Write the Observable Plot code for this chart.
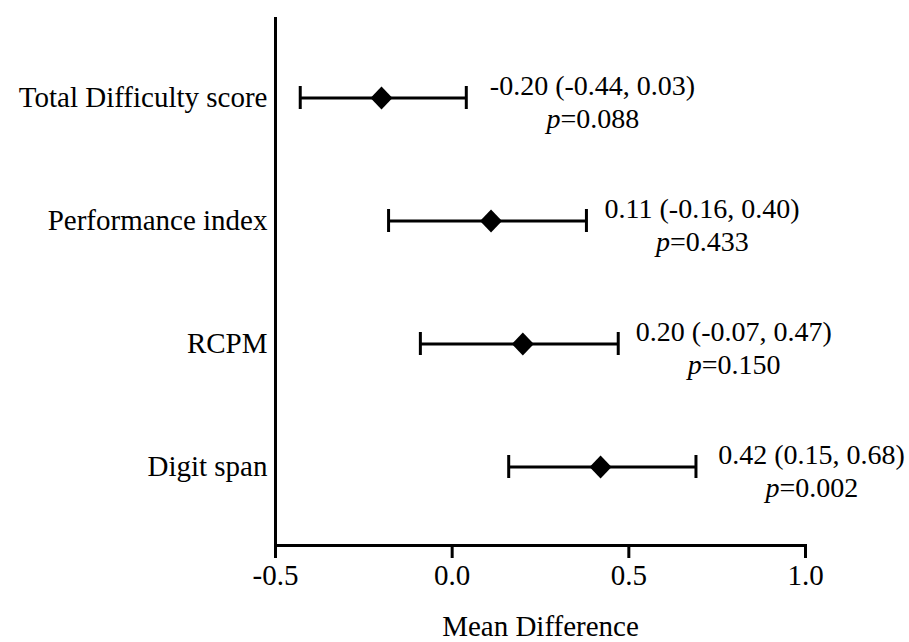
<!DOCTYPE html>
<html>
<head>
<meta charset="utf-8">
<script src="https://cdn.jsdelivr.net/npm/d3@7"></script>
<script src="https://cdn.jsdelivr.net/npm/@observablehq/plot@0.6"></script>
<style>
  html, body { margin: 0; padding: 0; background: #fff; }
</style>
</head>
<body>
<div id="chart"></div>
<script>
const categories = ["Total Difficulty score", "Performance index", "RCPM", "Digit span"];
const meanDiff = [-0.20, 0.11, 0.20, 0.42];
const ciLow = [-0.43, -0.18, -0.09, 0.16];
const ciHigh = [0.04, 0.38, 0.47, 0.69];
const ciText = ["-0.20 (-0.44, 0.03)", "0.11 (-0.16, 0.40)", "0.20 (-0.07, 0.47)", "0.42 (0.15, 0.68)"];
const pValues = ["0.088", "0.433", "0.150", "0.002"];
const xTicks = [-0.5, 0.0, 0.5, 1.0];

const data = categories.map((c, i) => ({
  cat: c, mean: meanDiff[i], lo: ciLow[i], hi: ciHigh[i], ci: ciText[i], p: pValues[i]
}));

const diamond = {
  draw(context, size) {
    const r = Math.sqrt(size / Math.PI);
    context.moveTo(0, -r * 1.05);
    context.lineTo(r, 0);
    context.lineTo(0, r * 1.05);
    context.lineTo(-r, 0);
    context.closePath();
  }
};

const font = "'Liberation Serif', 'Times New Roman', serif";
const fmt = d => d.toFixed(1);

const chart = Plot.plot({
  width: 909,
  height: 642,
  marginLeft: 275,
  marginRight: 104,
  marginTop: 17,
  marginBottom: 97,
  style: { fontFamily: font, fontSize: "28px", color: "black", background: "white" },
  x: { domain: [-0.5, 1.0], ticks: xTicks, tickFormat: fmt, label: null },
  y: { type: "band", domain: categories, range: [35.5, 527.5], padding: 0, label: null },
  marks: [
    Plot.axisY({ tickSize: 0, tickPadding: 8, fontSize: 29, label: null }),
    Plot.axisX({
      ticks: xTicks, tickFormat: fmt, tickSize: 13, tickPadding: 6, strokeWidth: 3,
      fontSize: 29, label: "Mean Difference", labelAnchor: "center", labelOffset: 90, labelArrow: "none"
    }),
    Plot.ruleX([-0.5], { strokeWidth: 3 }),
    Plot.frame({ anchor: "bottom", strokeWidth: 3 }),
    Plot.ruleY(data, { y: "cat", x1: "lo", x2: "hi", strokeWidth: 3 }),
    Plot.tickX(data, { x: "lo", y: "cat", strokeWidth: 3, insetTop: 50, insetBottom: 50 }),
    Plot.tickX(data, { x: "hi", y: "cat", strokeWidth: 3, insetTop: 50, insetBottom: 50 }),
    Plot.dot(data, { x: "mean", y: "cat", r: 11, fill: "black", stroke: "none", symbol: diamond }),
    Plot.text(data, { x: "mean", y: "cat", text: "ci", dx: 211, dy: -12, textAnchor: "middle", fontSize: 28, fill: "black" }),
    Plot.text(data, { x: "mean", y: "cat", text: () => "p", dx: 179, dy: 21, textAnchor: "end", fontStyle: "italic", fontSize: 28, fill: "black" }),
    Plot.text(data, { x: "mean", y: "cat", text: d => "=" + d.p, dx: 179, dy: 21, textAnchor: "start", fontSize: 28, fill: "black" })
  ]
});

document.getElementById("chart").appendChild(chart);
</script>
</body>
</html>
